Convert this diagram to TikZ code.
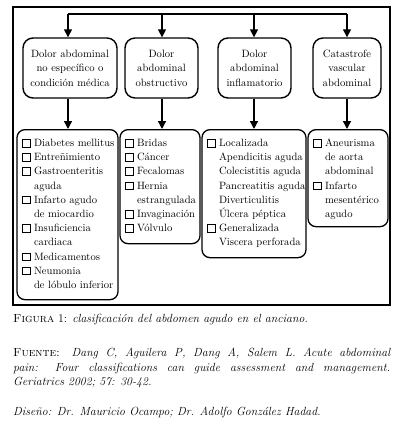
\documentclass[tikz,border=0pt]{standalone}
\usepackage{fontspec}
\usetikzlibrary{arrows.meta}

\newcommand{\cb}{\makebox[12pt][l]{\fboxsep=0pt\fboxrule=1.1pt\fbox{\rule{0pt}{6.5pt}\hspace{6.5pt}}}}
\newcommand{\sk}{\hspace*{12pt}}
\newcommand{\listtext}[3]{\parbox[c][#1][t]{#2}{\begin{tabular}[t]{@{}l@{}}#3\end{tabular}}}

\begin{document}
\begin{tikzpicture}[x=1pt,y=-1pt,
  font=\fontsize{10.6}{14.4}\selectfont,
  catbox/.style={draw, line width=1.4pt, rounded corners=10pt, align=center,
    minimum height=60pt, inner sep=2pt},
  listbox/.style={draw, line width=1.3pt, rounded corners=8pt, anchor=north,
    inner xsep=5pt, inner ysep=7pt, font=\fontsize{10.6}{14.2}\selectfont},
  link/.style={line width=1.4pt, -{Triangle[length=8pt,width=8pt]}},
  caption/.style={anchor=north west, inner sep=0pt, text width=377pt,
    align=justify, font=\fontsize{11.8}{14.6}\selectfont}]

\useasboundingbox (0,0) rectangle (403,441);

% Frame
\draw[line width=1.8pt] (13,7) rectangle (390,305);

% Categories
\node[catbox, minimum width=94pt] (cat1) at (70,68)
  {Dolor abdominal\\no específico o\\condición médica};
\node[catbox, minimum width=73pt] (cat2) at (161.5,68)
  {Dolor\\abdominal\\obstructivo};
\node[catbox, minimum width=73pt] (cat3) at (254.5,68)
  {Dolor\\abdominal\\inflamatorio};
\node[catbox, minimum width=68pt] (cat4) at (347,68)
  {Catastrofe\\vascular\\abdominal};

% Bus on top
\coordinate (bus1) at (68,14);
\coordinate (bus2) at (162,14);
\coordinate (bus3) at (254,14);
\coordinate (bus4) at (347,14);
\draw[line width=1.4pt] (bus1) -- (bus4);
\foreach \i in {1,...,4}
  \draw[link] (bus\i) -- (bus\i |- cat\i.north);

% Lists
\node[listbox] (list1) at (67.5,129) {\listtext{156pt}{91pt}{%
  \cb Diabetes mellitus\\
  \cb Entreñimiento\\
  \cb Gastroenteritis\\
  \sk aguda\\
  \cb Infarto agudo\\
  \sk de miocardio\\
  \cb Insuficiencia\\
  \sk cardiaca\\
  \cb Medicamentos\\
  \cb Neumonia\\
  \sk de lóbulo inferior}};
\node[listbox] (list2) at (160,129) {\listtext{100pt}{70pt}{%
  \cb Bridas\\
  \cb Cáncer\\
  \cb Fecalomas\\
  \cb Hernia\\
  \sk estrangulada\\
  \cb Invaginación\\
  \cb Vólvulo}};
\node[listbox] (list3) at (254,129) {\listtext{114pt}{94pt}{%
  \cb Localizada\\
  \sk Apendicitis aguda\\
  \sk Colecistitis aguda\\
  \sk Pancreatitis aguda\\
  \sk Diverticulitis\\
  \sk Úlcera péptica\\
  \cb Generalizada\\
  \sk Viscera perforada}};
\node[listbox] (list4) at (348,129) {\listtext{83pt}{70pt}{%
  \cb Aneurisma\\
  \sk de aorta\\
  \sk abdominal\\
  \cb Infarto\\
  \sk mesentérico\\
  \sk agudo}};

% Links down
\foreach \i in {1,...,4}
  \draw[link] (bus\i |- cat\i.south) -- (bus\i |- list\i.north);

% Captions
\node[caption] (fig) at (13,314)
  {\textsc{Figura} 1: \textit{clasificación del abdomen agudo en el anciano.}};
\node[caption] (src) at (13,348)
  {\textsc{Fuente:} \textit{Dang C, Aguilera P, Dang A, Salem L. Acute abdominal\linebreak
  pain: Four classifications can guide assessment and management.\linebreak
  Geriatrics 2002; 57: 30-42.}};
\node[caption] (credit) at (13,407)
  {\textit{Diseño: Dr. Mauricio Ocampo; Dr. Adolfo González Hadad.}};

\end{tikzpicture}
\end{document}
